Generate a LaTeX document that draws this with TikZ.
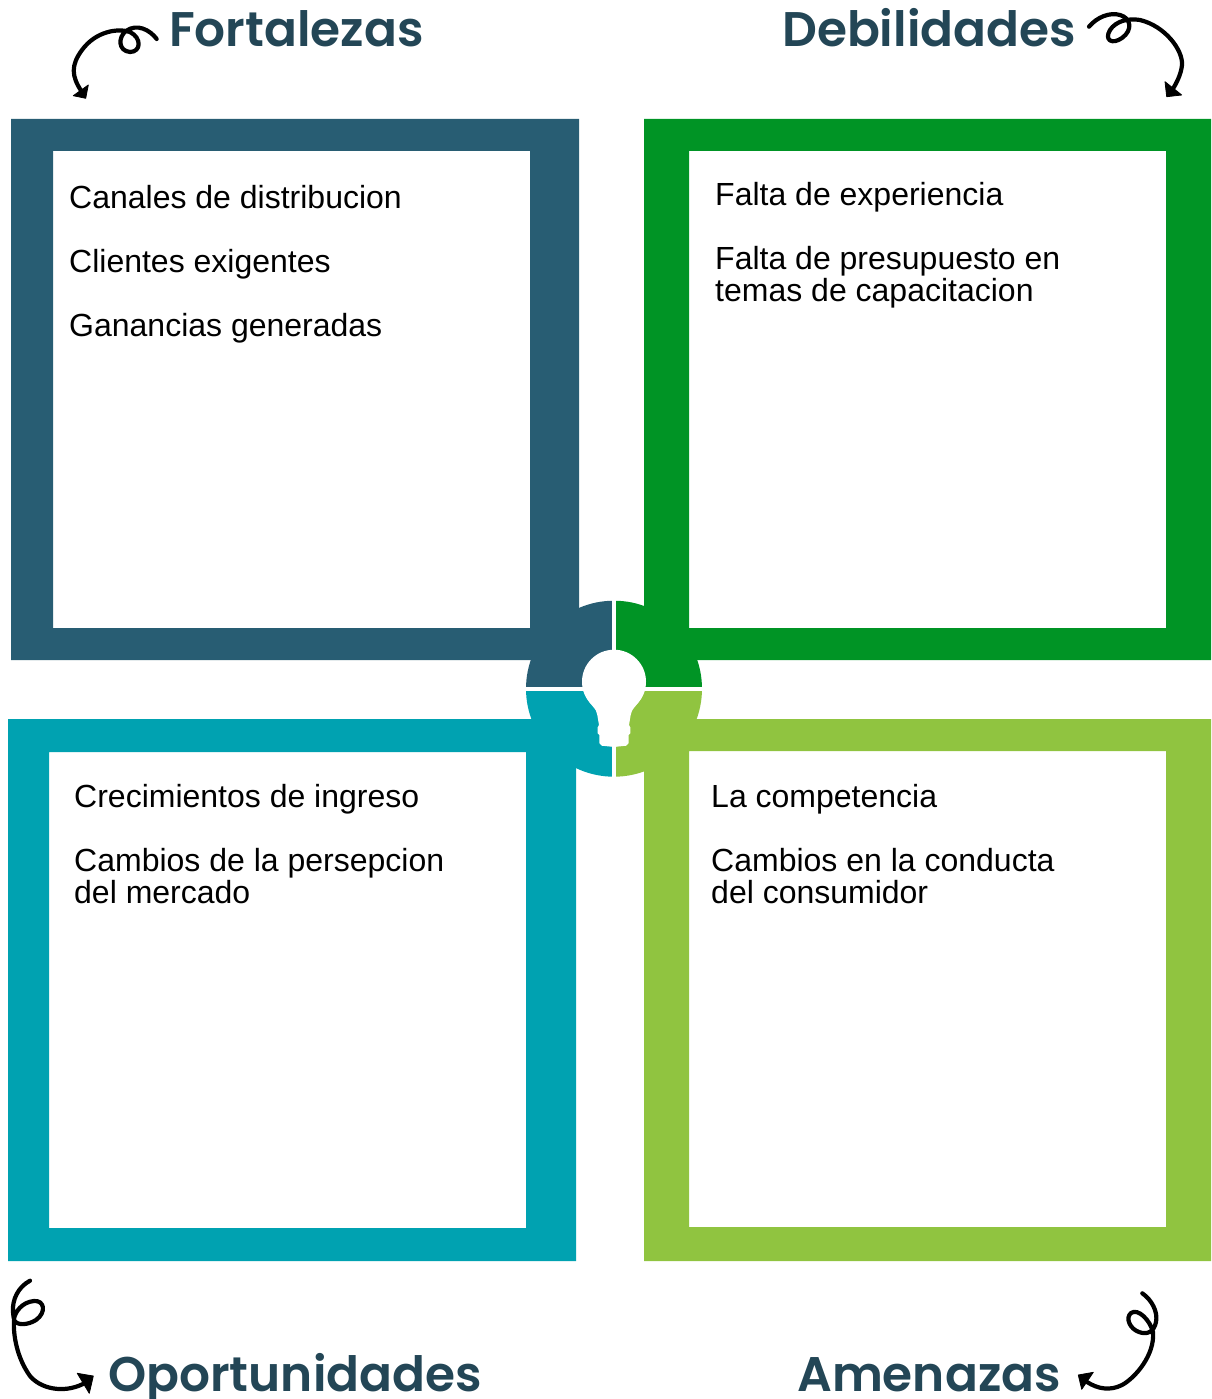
\documentclass[tikz,border=0pt]{standalone}
\usepackage{fontspec}
\setmainfont{Liberation Sans}
\newfontfamily\headfont{Poppins SemiBold}
\definecolor{cblue}{HTML}{285D73}
\definecolor{cgreen}{HTML}{009425}
\definecolor{cteal}{HTML}{00A2B1}
\definecolor{clime}{HTML}{90C440}
\definecolor{chead}{HTML}{234656}
\tikzset{
  frameshape/.style={even odd rule,draw=none},
  headtext/.style={font=\headfont\fontsize{48.6}{48.6}\selectfont,text=chead,anchor=base west,inner sep=0pt},
  bodytext/.style={font=\fontsize{32}{32}\selectfont,text=black,anchor=north west,align=left,inner sep=0pt},
  curl/.style={line width=4.2pt,line cap=round,line join=round,black},
  curlhead/.style={fill=black,draw=black,line width=0.8pt,line join=round}
}
\begin{document}
\begin{tikzpicture}[x=1pt,y=-1pt]
\useasboundingbox (0,0) rectangle (1211,1399);
% frames
\fill[cblue,frameshape] (11,119) rectangle (579,660) (53,151) rectangle (530,628);
\fill[cgreen,frameshape] (644,119) rectangle (1211,660) (689,151) rectangle (1166,628);
\fill[cteal,frameshape] (8,719) rectangle (576,1261) (49,752) rectangle (526,1228);
\fill[clime,frameshape] (644,719) rectangle (1211,1261) (689,751) rectangle (1166,1227);
% hub quadrants
\begin{scope}
\clip (614,688.7) circle[radius=88pt];
\fill[cblue] (520,595) rectangle (612,686.7);
\fill[cgreen] (616,595) rectangle (710,686.7);
\fill[cteal] (520,690.7) rectangle (612,785);
\fill[clime] (616,690.7) rectangle (710,785);
\end{scope}
% bulb
\fill[white] (614,681.7) circle[radius=32pt];
\fill[white] (582.9,689) -- (645.1,689)
  .. controls (643,697) and (638,703) .. (636.3,705)
  .. controls (632,710) and (631,712) .. (630.7,715)
  -- (629,725) -- (630.3,727.3) -- (630.3,733.3) -- (628.7,735) -- (628.7,743)
  -- (626.3,745.7) -- (616.3,746.7) -- (614,749) -- (611.7,746.7) -- (601.7,745.7)
  -- (599.3,743) -- (599.3,735) -- (597.7,733.3) -- (597.7,727.3) -- (599,725) -- (597.3,715)
  .. controls (597,712) and (596,710) .. (591.7,705)
  .. controls (590,703) and (585,697) .. (582.9,689) -- cycle;
% headings
\node[headtext] (fort) at (169,47) {Fortalezas};
\node[headtext] (debi) at (782,47) {Debilidades};
\node[headtext] (opor) at (108,1391) {Oportunidades};
\node[headtext] (amen) at (797,1391) {Amenazas};
% body text
\node[bodytext] (tfort) at (69,185) {Canales de distribucion\\[32pt]Clientes exigentes\\[32pt]Ganancias generadas};
\node[bodytext] (tdebi) at (715,182) {Falta de experiencia\\[32pt]Falta de presupuesto en\\temas de capacitacion};
\node[bodytext] (topor) at (74,784) {Crecimientos de ingreso\\[32pt]Cambios de la persepcion\\del mercado};
\node[bodytext] (tamen) at (711,784) {La competencia\\[32pt]Cambios en la conducta\\del consumidor};
% curly arrows
\draw[curl] (156.7,39) .. controls (150,30) and (137,23) .. (126,31) .. controls (118,37) and (118,51) .. (130,52) .. controls (141,52) and (142,38) .. (130,32) .. controls (118,28) and (96,31) .. (82,50) .. controls (71,65) and (71,76) .. (82,92);
\fill[curlhead] (73.3,95.7) -- (88.3,85) -- (85.7,98.3) -- cycle;
\draw[curl] (1089,26.7) .. controls (1097,17) and (1110,12) .. (1120,15) .. controls (1131,18) and (1133,30) .. (1122,38) .. controls (1112,45) and (1104,40) .. (1110,30) .. controls (1116,21) and (1128,18) .. (1140,20) .. controls (1165,26) and (1183,50) .. (1182,65) .. controls (1181,75) and (1176,84) .. (1171,92);
\fill[curlhead] (1165,81.7) -- (1181.7,95) -- (1166.7,96.7) -- cycle;
\draw[curl] (30,1280.7) .. controls (18,1287) and (12,1300) .. (13,1312) .. controls (13.5,1316) and (13.5,1318) .. (14,1319) .. controls (15,1312) and (22,1302) .. (34,1301) .. controls (44,1300) and (47,1312) .. (36,1320) .. controls (28,1325) and (17,1326) .. (14,1320) .. controls (13,1335) and (17,1358) .. (30,1376) .. controls (40,1388) and (62,1394) .. (83,1384);
\fill[curlhead] (77.3,1373.3) -- (93.3,1376) -- (89.3,1393.3) -- cycle;
\draw[curl] (1142.3,1293.3) .. controls (1152,1300) and (1158,1312) .. (1156,1322) .. controls (1154,1332) and (1147,1335) .. (1139,1332) .. controls (1130,1329) and (1125,1318) .. (1131,1313) .. controls (1138,1308) and (1150,1320) .. (1153,1332) .. controls (1155,1355) and (1135,1378) .. (1122,1385) .. controls (1110,1391) and (1098,1389) .. (1087,1382);
\fill[curlhead] (1078.3,1375) -- (1093.3,1372.3) -- (1081.7,1389.3) -- cycle;
\end{tikzpicture}
\end{document}
